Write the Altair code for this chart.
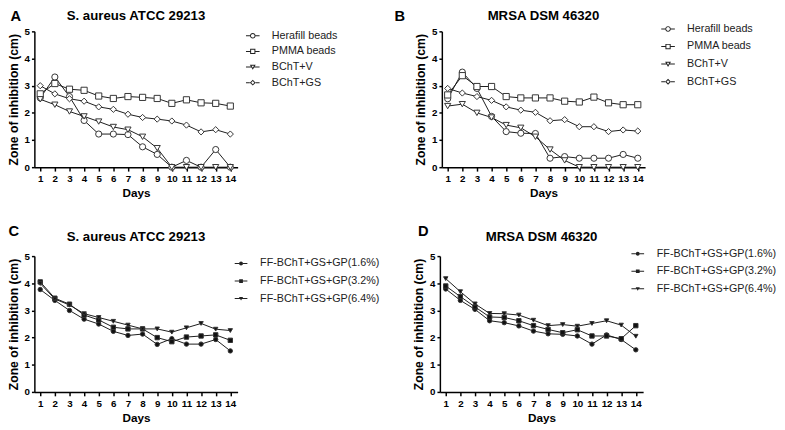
import math
import altair as alt
import pandas as pd

FONT = "Liberation Sans"

days = list(range(1, 15))
day_ticks = list(range(1, 15))
y_ticks = [0, 1, 2, 3, 4, 5]

# Panel A: S. aureus ATCC 29213
a_names = ["Herafill beads", "PMMA beads", "BChT+V", "BChT+GS"]
a_herafill = [2.55, 3.32, 2.6, 1.72, 1.22, 1.22, 1.2, 0.75, 0.47, 0.0, 0.25, 0.0, 0.65, 0.0]
a_pmma = [2.7, 3.08, 2.87, 2.83, 2.62, 2.53, 2.6, 2.57, 2.53, 2.35, 2.48, 2.37, 2.35, 2.25]
a_bcht_v = [2.5, 2.3, 2.05, 1.87, 1.68, 1.48, 1.38, 1.12, 0.7, 0.0, 0.0, 0.0, 0.0, 0.0]
a_bcht_gs = [3.0, 2.7, 2.52, 2.43, 2.22, 2.13, 1.95, 1.83, 1.77, 1.7, 1.55, 1.3, 1.38, 1.22]

# Panel B: MRSA DSM 46320
b_names = a_names
b_herafill = [2.52, 3.5, 2.9, 1.87, 1.31, 1.25, 1.24, 0.33, 0.39, 0.33, 0.33, 0.33, 0.47, 0.33]
b_pmma = [2.66, 3.37, 2.97, 2.97, 2.6, 2.55, 2.55, 2.55, 2.43, 2.4, 2.58, 2.37, 2.3, 2.3]
b_bcht_v = [2.25, 2.32, 2.0, 1.83, 1.55, 1.45, 1.12, 0.65, 0.25, 0.0, 0.0, 0.0, 0.0, 0.0]
b_bcht_gs = [2.9, 2.73, 2.6, 2.46, 2.22, 2.1, 2.02, 1.71, 1.75, 1.49, 1.49, 1.31, 1.37, 1.33]

# Panel C: S. aureus ATCC 29213 (FF-BChT)
c_names = ["FF-BChT+GS+GP(1.6%)", "FF-BChT+GS+GP(3.2%)", "FF-BChT+GS+GP(6.4%)"]
c_gp16 = [3.77, 3.37, 3.0, 2.68, 2.5, 2.23, 2.08, 2.13, 1.75, 1.96, 1.76, 1.76, 1.93, 1.51]
c_gp32 = [4.05, 3.45, 3.23, 2.83, 2.65, 2.38, 2.32, 2.32, 2.0, 1.85, 2.02, 2.06, 2.1, 1.9]
c_gp64 = [3.99, 3.42, 3.2, 2.88, 2.74, 2.6, 2.46, 2.32, 2.32, 2.2, 2.36, 2.52, 2.31, 2.26]

# Panel D: MRSA DSM 46320 (FF-BChT)
d_names = c_names
d_gp16 = [3.79, 3.37, 3.04, 2.62, 2.55, 2.43, 2.24, 2.14, 2.12, 2.06, 1.76, 2.1, 1.93, 1.55]
d_gp32 = [3.9, 3.51, 3.13, 2.76, 2.74, 2.62, 2.44, 2.3, 2.18, 2.29, 2.06, 2.06, 1.96, 2.44]
d_gp64 = [4.17, 3.69, 3.24, 2.89, 2.88, 2.83, 2.64, 2.44, 2.48, 2.42, 2.52, 2.62, 2.46, 2.05]


def _poly(pts):
    return "M" + "L".join(f"{x:.3f},{y:.3f}" for x, y in pts) + "Z"


def legend_path(kind, L, t, hollow):
    """Legend glyph (line stub + marker) drawn as filled geometry, in unit coords."""
    h = t / 2
    verts = None
    if kind == "circle":
        a = 0.9
        cx, cy, inr = 0.0, 0.0, 0.9
    elif kind == "square":
        a = 0.85
        verts = [(-0.85, -0.85), (0.85, -0.85), (0.85, 0.85), (-0.85, 0.85)]
        cx, cy, inr = 0.0, 0.0, 0.85
    elif kind == "triangle-down":
        a = 0.52
        verts = [(-0.95, -0.75), (0.95, -0.75), (0.0, 0.9)]
        cx, cy, inr = 0.0, -0.2, 0.55
    else:
        a = 0.95
        verts = [(0.0, -0.95), (0.95, 0.0), (0.0, 0.95), (-0.95, 0.0)]
        cx, cy, inr = 0.0, 0.0, 0.95 / math.sqrt(2)
    s = _poly([(-L, -h), (-a, -h), (-a, h), (-L, h)])
    s += _poly([(a, -h), (L, -h), (L, h), (a, h)])
    if kind == "circle":
        R = 0.9
        s += f"M{R},0A{R},{R},0,1,1,{-R},0A{R},{R},0,1,1,{R},0Z"
        if hollow:
            r = R - t
            s += f"M{r:.3f},0A{r:.3f},{r:.3f},0,1,0,{-r:.3f},0A{r:.3f},{r:.3f},0,1,0,{r:.3f},0Z"
    else:
        s += _poly(verts)
        if hollow:
            k = 1 - t / inr
            inner = [(cx + (x - cx) * k, cy + (y - cy) * k) for x, y in verts][::-1]
            s += _poly(inner)
    return s


def make_df(names, series):
    rows = []
    for n, vals in zip(names, series):
        for d, v in zip(days, vals):
            rows.append({"day": d, "zone": v, "series": n})
    return pd.DataFrame(rows)


W, H = 208, 139


def panel(names, series, shapes, open_markers, msize, stubL, title, letter,
          letter_dx, letter_dy, title_dy, lx, ly, row_pad):
    df = make_df(names, series)
    x = alt.X("day:Q", scale=alt.Scale(domain=[0.6, 14.5], nice=False, zero=False),
              axis=alt.Axis(values=day_ticks, title="Days", format="d"))
    y = alt.Y("zone:Q", scale=alt.Scale(domain=[0, 5], nice=False),
              axis=alt.Axis(values=y_ticks, title="Zone of inhibition (cm)", format="d"))
    base = alt.Chart(df)
    layers = [base.mark_line(color="#1a1a1a", strokeWidth=1).encode(
        x=x, y=y, detail="series:N", order="day:Q")]
    fill = "white" if open_markers else "#111111"
    for n, shp in zip(names, shapes):
        layers.append(
            base.transform_filter(alt.datum.series == n).mark_point(
                filled=True, color=fill, stroke="#333333", strokeWidth=1,
                size=msize, opacity=1, shape=shp).encode(x=x, y=y)
        )
    unit = math.sqrt(msize) / 2
    t = 1.0 / unit
    paths = [legend_path(k, stubL, t, open_markers) for k in shapes]
    legend = alt.Legend(
        title=None, orient="none", legendX=lx, legendY=ly, padding=0,
        labelFont=FONT, labelFontSize=11, labelColor="#222222",
        symbolSize=msize, rowPadding=row_pad, labelOffset=14,
        symbolFillColor="#222222", symbolOpacity=1,
    )
    layers.append(
        base.transform_filter("false").mark_point(
            filled=True, color="#222222", size=msize, opacity=1
        ).encode(
            x=x, y=y,
            shape=alt.Shape("series:N", scale=alt.Scale(domain=names, range=paths), legend=legend),
        )
    )
    layers.append(alt.Chart(pd.DataFrame({"t": [letter]})).mark_text(
        font=FONT, fontSize=15, fontWeight="bold", align="center", baseline="top",
        color="#000000").encode(text="t:N", x=alt.value(letter_dx), y=alt.value(letter_dy)))
    layers.append(alt.Chart(pd.DataFrame({"t": [title]})).mark_text(
        font=FONT, fontSize=13.5, fontWeight="bold", align="center", baseline="top",
        color="#000000").encode(text="t:N", x=alt.value(W / 2), y=alt.value(title_dy)))
    return alt.layer(*layers).properties(width=W, height=H)


shapes4 = ["circle", "square", "triangle-down", "diamond"]
shapes3 = ["circle", "square", "triangle-down"]

pA = panel(a_names, [a_herafill, a_pmma, a_bcht_v, a_bcht_gs], shapes4, True, 40, 2.2,
           "S. aureus ATCC 29213", "A", -19, -23, -23, 218, -1, 3)
pB = panel(b_names, [b_herafill, b_pmma, b_bcht_v, b_bcht_gs], shapes4, True, 40, 2.2,
           "MRSA DSM 46320", "B", -43, -23, -23, 226, -8, 5)
pC = panel(c_names, [c_gp16, c_gp32, c_gp64], shapes3, False, 20, 2.9,
           "S. aureus ATCC 29213", "C", -21, -33, -26, 206, 2, 6)
pD = panel(d_names, [d_gp16, d_gp32, d_gp64], shapes3, False, 20, 2.9,
           "MRSA DSM 46320", "D", -17, -33, -26, 197, -8, 6)

row1 = alt.hconcat(pA, pB, spacing=57).resolve_scale(shape="independent").resolve_legend(shape="independent")
row2 = alt.hconcat(pC, pD, spacing=33).resolve_scale(shape="independent").resolve_legend(shape="independent")

chart = alt.vconcat(row1, row2, spacing=26).resolve_scale(
    shape="independent").resolve_legend(shape="independent").properties(
    padding={"left": -1, "top": -4, "right": 0, "bottom": 0}
).configure_view(stroke=None).configure_axis(
    labelFont=FONT, titleFont=FONT, labelFontWeight="bold", titleFontWeight="bold",
    labelFontSize=10, titleFontSize=12.5, labelColor="#000000", titleColor="#000000",
    domainColor="#000000", tickColor="#000000", domainWidth=1.5, tickWidth=1.5,
    grid=False, labelFlush=False, labelOverlap=False,
).configure_axisX(
    tickSize=4, labelPadding=3, titlePadding=4, titleFontSize=12,
).configure_axisY(
    tickSize=3, labelPadding=2, titlePadding=4,
)

chart.save("out.html", embed_options={"renderer": "svg", "actions": False})
